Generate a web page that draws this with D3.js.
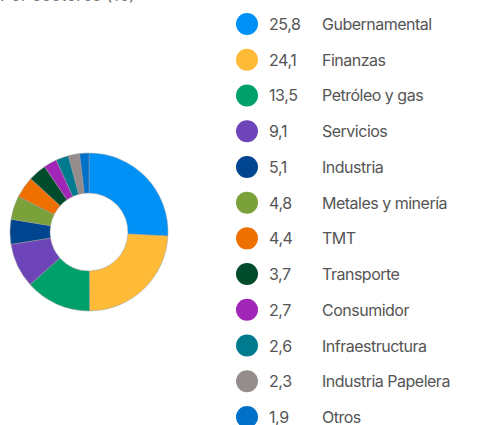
<!DOCTYPE html>
<html lang="es">
<head>
<meta charset="UTF-8">
<title>Sectores</title>
<style>
  body { margin: 0; background: #fff; }
  text { font-family: Inter, "Noto Sans", sans-serif; }
</style>
</head>
<body>
<script src="https://d3js.org/d3.v7.min.js"></script>
<div id="chart"></div>
<script>
    // data
    const sectors = ["Gubernamental", "Finanzas", "Petróleo y gas", "Servicios", "Industria",
      "Metales y minería", "TMT", "Transporte", "Consumidor", "Infraestructura",
      "Industria Papelera", "Otros"];
    const values = [25.8, 24.1, 13.5, 9.1, 5.1, 4.8, 4.4, 3.7, 2.7, 2.6, 2.3, 1.9];
    const colors = ["#0091f7", "#ffbb38", "#00a06a", "#6e45b8", "#004590", "#7ba23a",
      "#ee7100", "#004b2c", "#a126b8", "#007a8e", "#958c8c", "#0070c9"];

    const width = 483, height = 425;

    const svg = d3.select("#chart")
      .append("svg")
        .attr("width", width)
        .attr("height", height);

    // title, mostly cut off at the top
    svg.append("text")
      .attr("x", 0)
      .attr("y", 1)
      .attr("font-size", 17)
      .attr("fill", "#777")
      .text("Por sectores (%)");

    const data = sectors.map((s, i) => ({sector: s, value: values[i], color: colors[i]}));

    // donut
    const pie = d3.pie().sort(null).value(d => d.value);
    const arc = d3.arc().innerRadius(39).outerRadius(79);

    const g = svg.append("g")
      .attr("transform", "translate(89,232)");

    g.selectAll("path")
      .data(pie(data))
      .join("path")
        .attr("d", arc)
        .attr("fill", d => d.data.color)
        .attr("stroke", "#9a9a9a")
        .attr("stroke-width", 0.5);

    // legend
    const y = d3.scalePoint()
      .domain(sectors)
      .range([24, 417]);

    const legend = svg.append("g");

    const rows = legend.selectAll("g")
      .data(data)
      .join("g")
        .attr("transform", d => `translate(0,${y(d.sector)})`);

    rows.append("circle")
      .attr("cx", 247)
      .attr("cy", 0)
      .attr("r", 11)
      .attr("fill", d => d.color);

    rows.append("text")
      .attr("x", 269)
      .attr("y", 6)
      .attr("font-size", 16)
      .attr("letter-spacing", -0.4)
      .attr("fill", "#555")
      .text(d => d3.format(".1f")(d.value).replace(".", ","));

    rows.append("text")
      .attr("x", 322)
      .attr("y", 6)
      .attr("font-size", 16)
      .attr("letter-spacing", -0.5)
      .attr("fill", "#555")
      .text(d => d.sector);
</script>
</body>
</html>
